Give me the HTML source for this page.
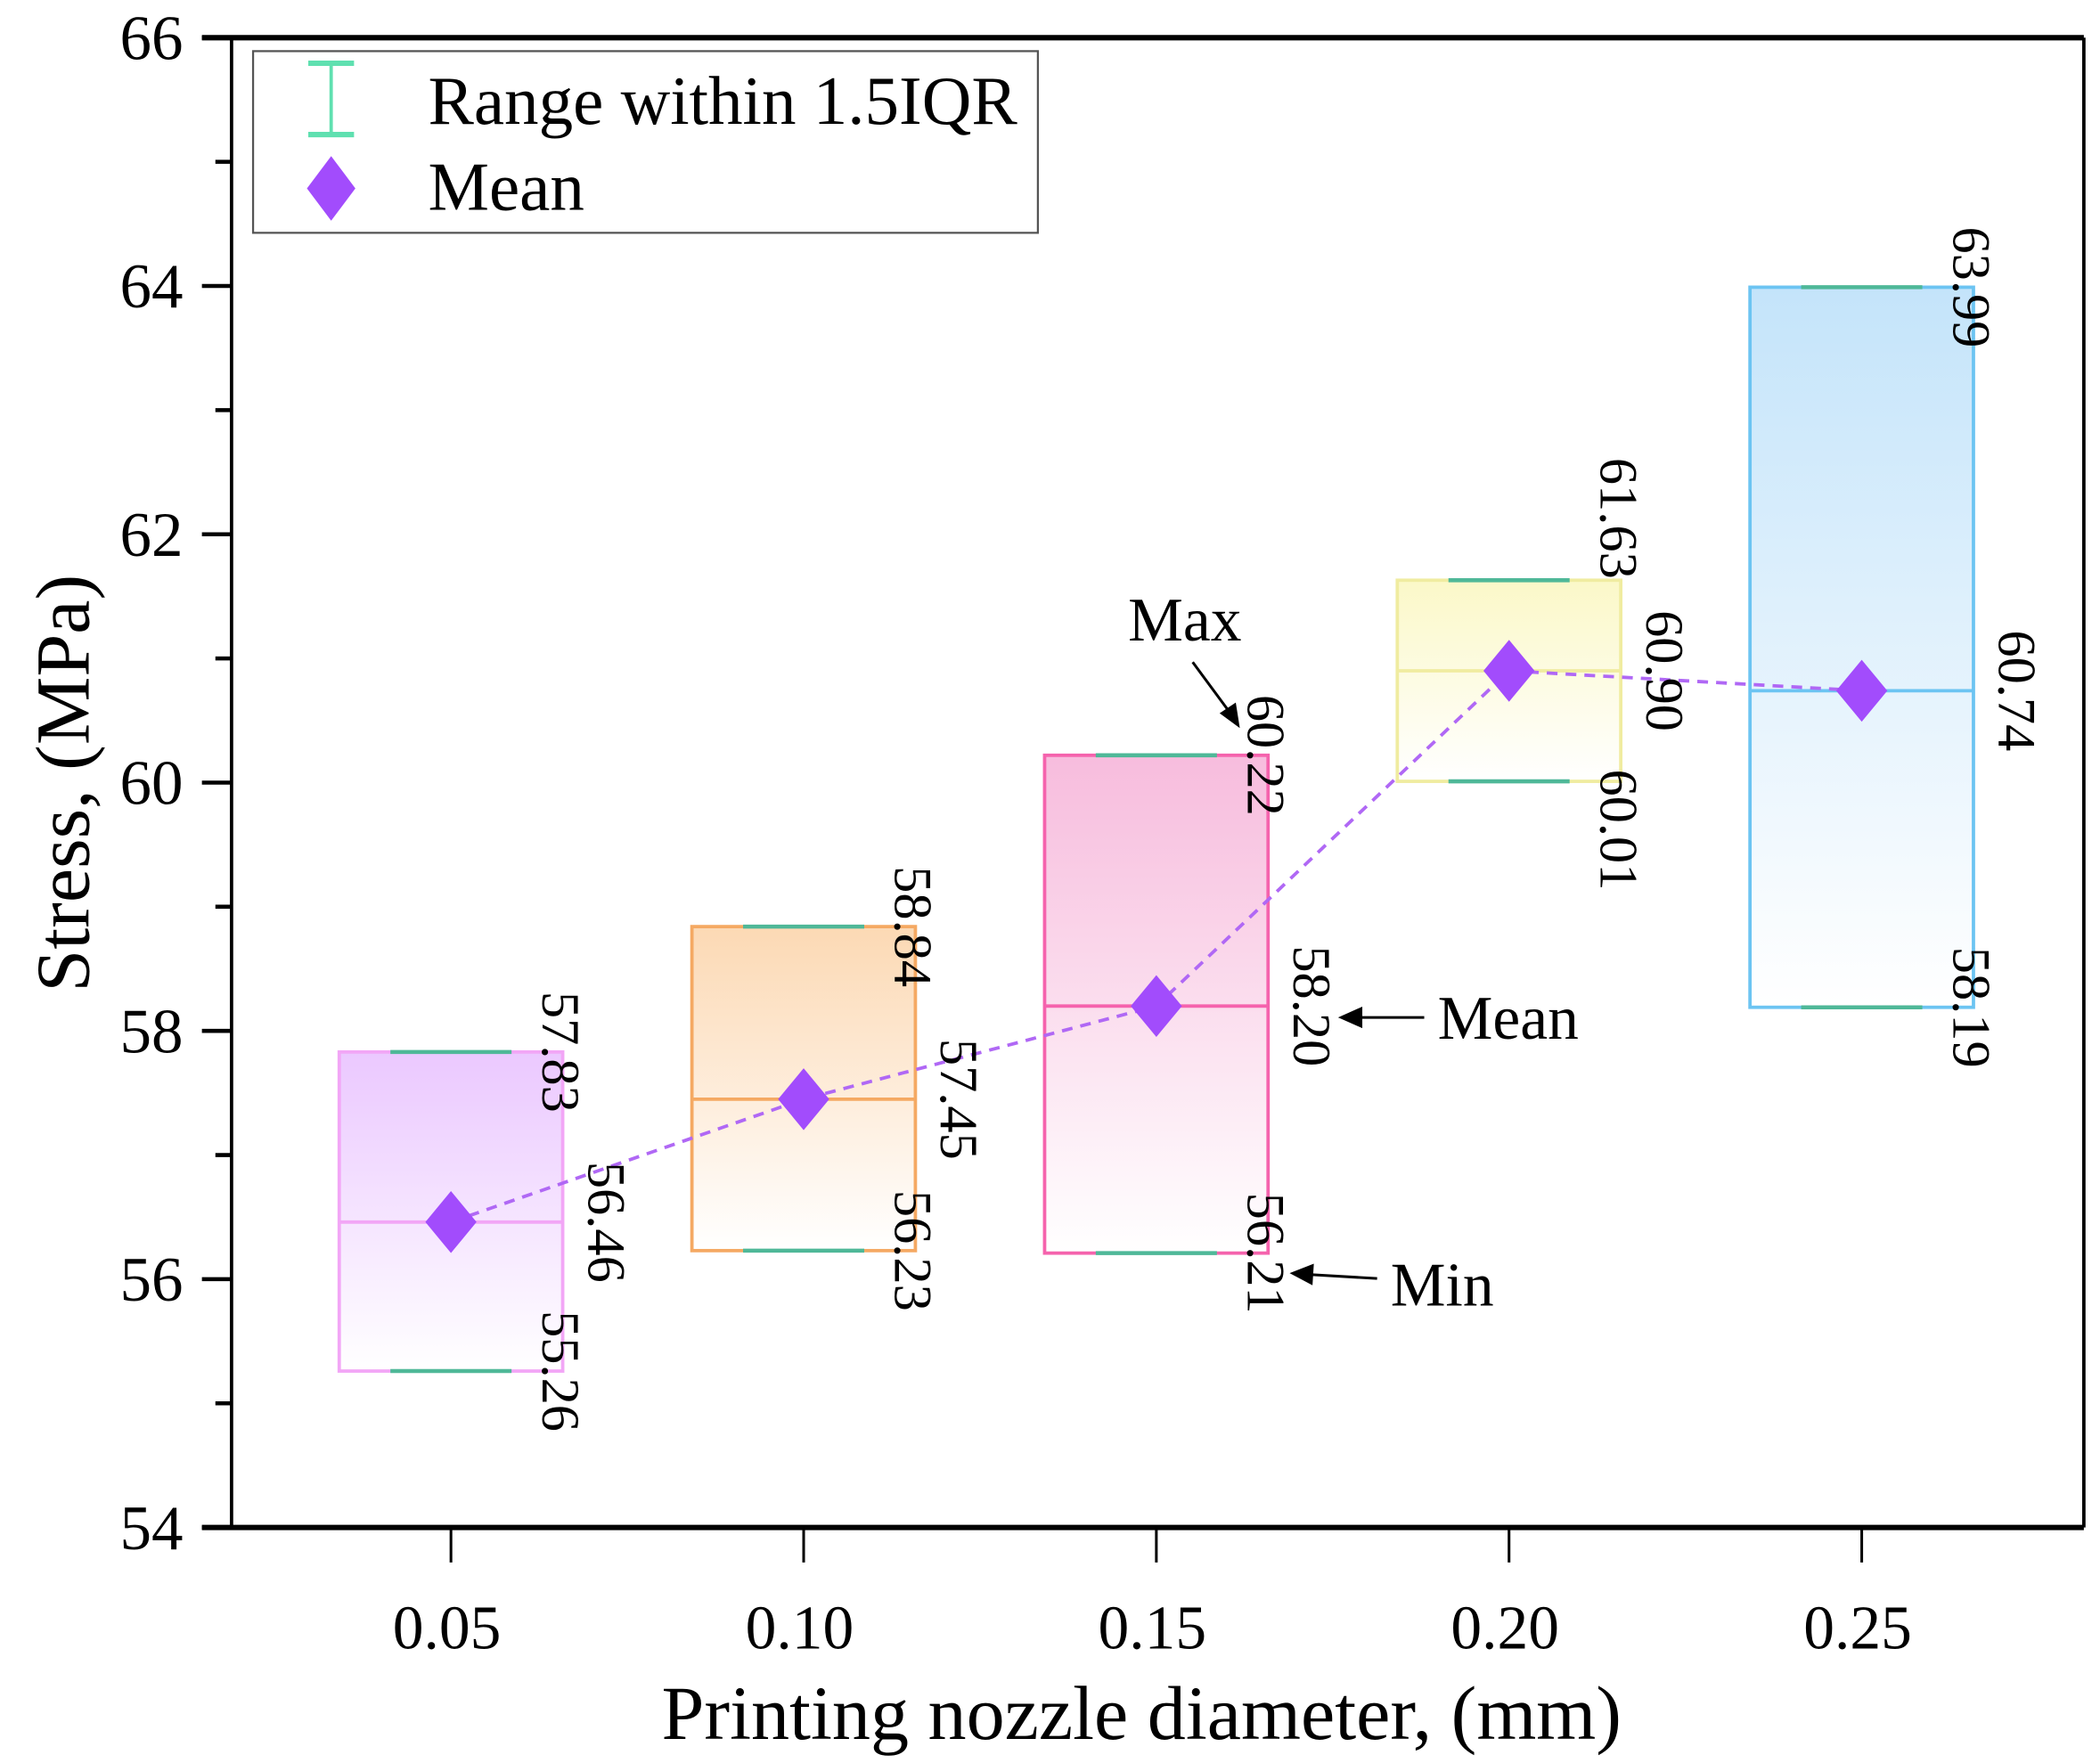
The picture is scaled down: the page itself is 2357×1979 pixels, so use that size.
<!DOCTYPE html>
<html><head><meta charset="utf-8"><style>
html,body{margin:0;padding:0;background:#fff}
svg{display:block}
text{font-family:"Liberation Serif",serif;fill:#000}
</style></head><body>
<svg id="chart" width="2357" height="1979" viewBox="0 0 1560 1310" preserveAspectRatio="none" xmlns="http://www.w3.org/2000/svg">
<defs id="defs"></defs>
<g id="boxes"></g>
<g id="axes"></g>
<g id="labels"></g>
<g>
  <rect x="188" y="38" width="583" height="135" fill="#fff" stroke="#555" stroke-width="1.5"/>
  <line x1="246" y1="47" x2="246" y2="100" stroke="#5fe0b0" stroke-width="2.5"/>
  <line x1="229" y1="47" x2="263" y2="47" stroke="#5fe0b0" stroke-width="4"/>
  <line x1="229" y1="100" x2="263" y2="100" stroke="#5fe0b0" stroke-width="4"/>
  <text x="318" y="92" font-size="51">Range within 1.5IQR</text>
  <polygon points="246,116 264,140 246,164 228,140" fill="#a24cfc"/>
  <text x="318" y="156" font-size="51">Mean</text>
</g>
<g>
  <text x="838" y="476" font-size="46">Max</text>
  <line x1="886" y1="492" x2="914" y2="530" stroke="#000" stroke-width="2"/>
  <polygon points="921,541 906,530 918,522" fill="#000"/>
  <text x="1068" y="772" font-size="46">Mean</text>
  <line x1="1058" y1="756" x2="1008" y2="756" stroke="#000" stroke-width="2"/>
  <polygon points="994,756 1012,748 1012,764" fill="#000"/>
  <text x="1033" y="970" font-size="46">Min</text>
  <line x1="1023" y1="950" x2="972" y2="947" stroke="#000" stroke-width="2"/>
  <polygon points="958,946 976,939 975,955" fill="#000"/>
</g>
<text x="848" y="1292" font-size="57" text-anchor="middle">Printing nozzle diameter, (mm)</text>
<text transform="translate(66,582) rotate(-90)" font-size="57" text-anchor="middle">Stress, (MPa)</text>
</svg>
<script>
const categories = ["0.05","0.10","0.15","0.20","0.25"];
const xValues = [0.05,0.10,0.15,0.20,0.25];
const mins = [55.26,56.23,56.21,60.01,58.19];
const maxs = [57.83,58.84,60.22,61.63,63.99];
const means = [56.46,57.45,58.20,60.90,60.74];
const yTicks = [54,56,58,60,62,64,66];
const edgeColors = ["#f2a6f6","#f5a963","#f563ad","#f0eca0","#6cc4f2"];
const fillColors = ["#ebc8ff","#fcd9b4","#f7bcdd","#fbf8c8","#c4e4fa"];

const NS="http://www.w3.org/2000/svg";
const L=172,R=1548,T=28,B=1135;
function yS(v){return B-(v-54)/(66-54)*(B-T);}
function xS(v){return 335+(v-0.05)/0.05*262;}
function mk(tag,attrs,parent){const e=document.createElementNS(NS,tag);for(const k in attrs)e.setAttribute(k,attrs[k]);parent.appendChild(e);return e;}
const defs=document.getElementById('defs'),boxes=document.getElementById('boxes'),axes=document.getElementById('axes'),labels=document.getElementById('labels');
const HW=83,CW=45;
categories.forEach((c,i)=>{
  const g=mk('linearGradient',{id:'g'+i,x1:0,y1:0,x2:0,y2:1},defs);
  mk('stop',{offset:0,'stop-color':fillColors[i]},g);
  mk('stop',{offset:1,'stop-color':'#ffffff'},g);
  const cx=xS(xValues[i]);
  const r=mk('rect',{x:cx-HW,y:yS(maxs[i]),width:2*HW,height:yS(mins[i])-yS(maxs[i]),fill:'url(#g'+i+')',stroke:edgeColors[i],'stroke-width':2.5},boxes);
  
  
  const med=mk('line',{x1:cx-HW,x2:cx+HW,y1:yS(means[i]),y2:yS(means[i]),stroke:edgeColors[i],'stroke-width':2.5},boxes);
  
  
  [maxs[i],mins[i]].forEach((v,j)=>{
    const cap=mk('line',{x1:cx-CW,x2:cx+CW,y1:yS(v),y2:yS(v),stroke:'#4fb898','stroke-width':3},boxes);
    
    
  });
  const off4 = i===3;
  const items=[[maxs[i],cx+HW,off4?-46:0],[means[i],cx+HW+34,0],[mins[i],cx+HW,off4?36:0]];
  items.forEach((it,k)=>{
    const t=mk('text',{transform:`translate(${it[1]-15},${yS(it[0])+it[2]}) rotate(90)`,'font-size':40,'text-anchor':'middle'},labels);
    t.textContent=it[0].toFixed(2);
    
    
  });
});
const pts=categories.map((c,i)=>xS(xValues[i])+','+yS(means[i])).join(' ');
const pl=mk('polyline',{points:pts,fill:'none',stroke:'#b068f5','stroke-width':2.5,'stroke-dasharray':'8,6'},boxes);


categories.forEach((c,i)=>{
  const x=xS(xValues[i]),y=yS(means[i]);
  const d=mk('polygon',{points:`${x},${y-23} ${x+19},${y} ${x},${y+23} ${x-19},${y}`,fill:'#a24cfc'},boxes);
  
  
});
mk('line',{x1:150,x2:R,y1:T,y2:T,stroke:'#000','stroke-width':4},axes);
mk('line',{x1:150,x2:R,y1:B,y2:B,stroke:'#000','stroke-width':4},axes);
mk('line',{x1:L,x2:L,y1:T,y2:B,stroke:'#000','stroke-width':2.5},axes);
mk('line',{x1:R,x2:R,y1:T,y2:B,stroke:'#000','stroke-width':2.5},axes);
yTicks.forEach(v=>{
  const y=yS(v);
  mk('line',{x1:150,x2:L,y1:y,y2:y,stroke:'#000','stroke-width':3},axes);
  const t=mk('text',{x:136,y:y+16,'font-size':47,'text-anchor':'end'},axes);
  t.textContent=v;
  
  
  if(v<66){const ym=yS(v+1);mk('line',{x1:160,x2:L,y1:ym,y2:ym,stroke:'#000','stroke-width':3},axes);}
});
categories.forEach((c,i)=>{
  const x=xS(xValues[i]);
  mk('line',{x1:x,x2:x,y1:B,y2:B+26,stroke:'#000','stroke-width':2},axes);
  const t=mk('text',{x:x-3,y:1225,'font-size':46,'text-anchor':'middle'},axes);
  t.textContent=c;
  
  
});
</script>
</body></html>
